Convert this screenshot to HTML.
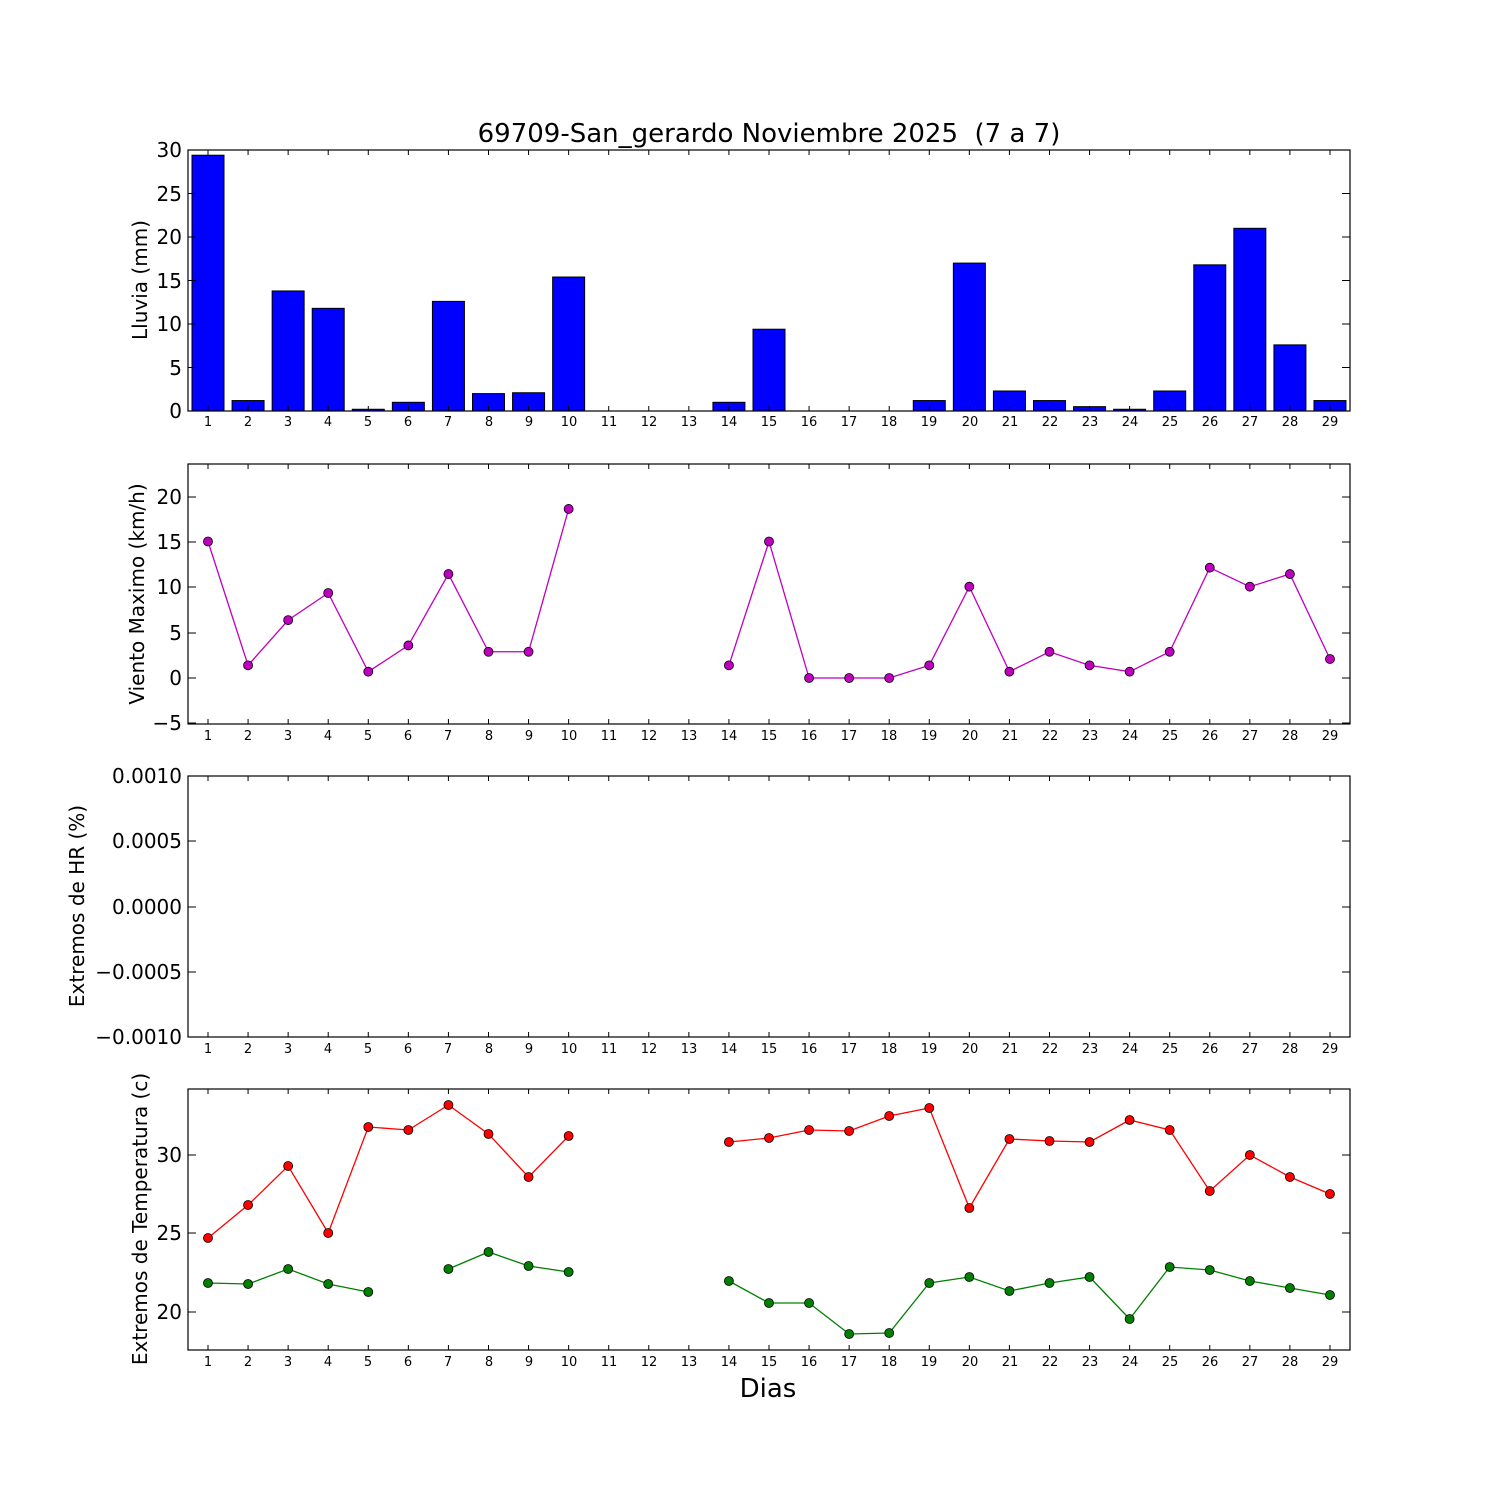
<!DOCTYPE html>
<html><head><meta charset="utf-8"><style>
body{margin:0;background:#fff}
svg{display:block}
text{font-family:"DejaVu Sans","Liberation Sans",sans-serif;fill:#000}
.xt{font-size:13px;text-anchor:middle}
.yt{font-size:20px;text-anchor:end}
.yl{font-size:20px;text-anchor:middle}
</style></head><body>
<svg id="s" width="1500" height="1500" viewBox="0 0 1500 1500" xmlns="http://www.w3.org/2000/svg">
<rect width="1500" height="1500" fill="#fff"/>
<g id="shapes"></g>
<text x="769" y="142" style="font-size:26px;white-space:pre" text-anchor="middle">69709-San_gerardo Noviembre 2025 &#160;(7 a 7)</text>
<text x="768" y="1397" style="font-size:26px" text-anchor="middle">Dias</text>
<text class="yl" transform="translate(147,280) rotate(-90)">Lluvia (mm)</text>
<text class="yl" transform="translate(144,594) rotate(-90)">Viento Maximo (km/h)</text>
<text class="yl" transform="translate(84,906) rotate(-90)">Extremos de HR (%)</text>
<text class="yl" transform="translate(147,1219) rotate(-90)">Extremos de Temperatura (c)</text>
<text class="yt" x="182" y="418">0</text><text class="yt" x="182" y="375">5</text><text class="yt" x="182" y="331">10</text><text class="yt" x="182" y="288">15</text><text class="yt" x="182" y="244">20</text><text class="yt" x="182" y="201">25</text><text class="yt" x="182" y="157">30</text>
<text class="yt" x="182" y="730">−5</text><text class="yt" x="182" y="685">0</text><text class="yt" x="182" y="640">5</text><text class="yt" x="182" y="594">10</text><text class="yt" x="182" y="549">15</text><text class="yt" x="182" y="504">20</text>
<text class="yt" x="182" y="783">0.0010</text><text class="yt" x="182" y="848">0.0005</text><text class="yt" x="182" y="914">0.0000</text><text class="yt" x="182" y="979">−0.0005</text><text class="yt" x="182" y="1044">−0.0010</text>
<text class="yt" x="182" y="1162">30</text><text class="yt" x="182" y="1240">25</text><text class="yt" x="182" y="1319">20</text>
<g transform="translate(0,426)">
<text class="xt" x="208">1</text><text class="xt" x="248">2</text><text class="xt" x="288">3</text><text class="xt" x="328">4</text><text class="xt" x="368">5</text><text class="xt" x="408">6</text><text class="xt" x="448">7</text><text class="xt" x="489">8</text><text class="xt" x="529">9</text><text class="xt" x="569">10</text><text class="xt" x="609">11</text><text class="xt" x="649">12</text><text class="xt" x="689">13</text><text class="xt" x="729">14</text><text class="xt" x="769">15</text><text class="xt" x="809">16</text><text class="xt" x="849">17</text><text class="xt" x="889">18</text><text class="xt" x="929">19</text><text class="xt" x="970">20</text><text class="xt" x="1010">21</text><text class="xt" x="1050">22</text><text class="xt" x="1090">23</text><text class="xt" x="1130">24</text><text class="xt" x="1170">25</text><text class="xt" x="1210">26</text><text class="xt" x="1250">27</text><text class="xt" x="1290">28</text><text class="xt" x="1330">29</text>
</g>
<g transform="translate(0,740)">
<text class="xt" x="208">1</text><text class="xt" x="248">2</text><text class="xt" x="288">3</text><text class="xt" x="328">4</text><text class="xt" x="368">5</text><text class="xt" x="408">6</text><text class="xt" x="448">7</text><text class="xt" x="489">8</text><text class="xt" x="529">9</text><text class="xt" x="569">10</text><text class="xt" x="609">11</text><text class="xt" x="649">12</text><text class="xt" x="689">13</text><text class="xt" x="729">14</text><text class="xt" x="769">15</text><text class="xt" x="809">16</text><text class="xt" x="849">17</text><text class="xt" x="889">18</text><text class="xt" x="929">19</text><text class="xt" x="970">20</text><text class="xt" x="1010">21</text><text class="xt" x="1050">22</text><text class="xt" x="1090">23</text><text class="xt" x="1130">24</text><text class="xt" x="1170">25</text><text class="xt" x="1210">26</text><text class="xt" x="1250">27</text><text class="xt" x="1290">28</text><text class="xt" x="1330">29</text>
</g>
<g transform="translate(0,1053)">
<text class="xt" x="208">1</text><text class="xt" x="248">2</text><text class="xt" x="288">3</text><text class="xt" x="328">4</text><text class="xt" x="368">5</text><text class="xt" x="408">6</text><text class="xt" x="448">7</text><text class="xt" x="489">8</text><text class="xt" x="529">9</text><text class="xt" x="569">10</text><text class="xt" x="609">11</text><text class="xt" x="649">12</text><text class="xt" x="689">13</text><text class="xt" x="729">14</text><text class="xt" x="769">15</text><text class="xt" x="809">16</text><text class="xt" x="849">17</text><text class="xt" x="889">18</text><text class="xt" x="929">19</text><text class="xt" x="970">20</text><text class="xt" x="1010">21</text><text class="xt" x="1050">22</text><text class="xt" x="1090">23</text><text class="xt" x="1130">24</text><text class="xt" x="1170">25</text><text class="xt" x="1210">26</text><text class="xt" x="1250">27</text><text class="xt" x="1290">28</text><text class="xt" x="1330">29</text>
</g>
<g transform="translate(0,1366)">
<text class="xt" x="208">1</text><text class="xt" x="248">2</text><text class="xt" x="288">3</text><text class="xt" x="328">4</text><text class="xt" x="368">5</text><text class="xt" x="408">6</text><text class="xt" x="448">7</text><text class="xt" x="489">8</text><text class="xt" x="529">9</text><text class="xt" x="569">10</text><text class="xt" x="609">11</text><text class="xt" x="649">12</text><text class="xt" x="689">13</text><text class="xt" x="729">14</text><text class="xt" x="769">15</text><text class="xt" x="809">16</text><text class="xt" x="849">17</text><text class="xt" x="889">18</text><text class="xt" x="929">19</text><text class="xt" x="970">20</text><text class="xt" x="1010">21</text><text class="xt" x="1050">22</text><text class="xt" x="1090">23</text><text class="xt" x="1130">24</text><text class="xt" x="1170">25</text><text class="xt" x="1210">26</text><text class="xt" x="1250">27</text><text class="xt" x="1290">28</text><text class="xt" x="1330">29</text>
</g>
</svg>
<script>
var g=document.getElementById("shapes"),out="";
function X(d){return 208+(d-1)*40.071;}
var L=188,R=1350,panels=[[150,411],[464,724],[776,1037],[1089,1350]];
var rain=[29.4,1.2,13.8,11.8,0.2,1.0,12.6,2.0,2.1,15.4,0,0,0,1.0,9.4,0,0,0,1.2,17.0,2.3,1.2,0.5,0.2,2.3,16.8,21.0,7.6,1.2];
rain.forEach(function(v,i){var h=v*8.7;out+='<rect x="'+(X(i+1)-16)+'" y="'+(411-h)+'" width="32" height="'+h+'" fill="#0000ff" stroke="#000" stroke-width="1"/>';});
function series(pts,color){var segs=[],cur=[];pts.forEach(function(p){if(p==null){if(cur.length)segs.push(cur);cur=[];}else cur.push(p);});if(cur.length)segs.push(cur);
segs.forEach(function(s){out+='<polyline fill="none" stroke="'+color+'" stroke-width="1.3" points="'+s.map(function(p){return p[0]+','+p[1]}).join(' ')+'"/>';});
pts.forEach(function(p){if(p)out+='<circle cx="'+p[0]+'" cy="'+p[1]+'" r="4.5" fill="'+color+'" stroke="#000" stroke-width="0.8"/>';});}
var wind=[15.1,1.4,6.4,9.4,0.7,3.6,11.5,2.9,2.9,18.7,null,null,null,1.4,15.1,0,0,0,1.4,10.1,0.7,2.9,1.4,0.7,2.9,12.2,10.1,11.5,2.1];
series(wind.map(function(v,i){return v==null?null:[X(i+1),678-v*9.04];}),"#bf00bf");
var tmax=[1238,1205,1166,1233,1127,1130,1105,1134,1177,1136,null,null,null,1142,1138,1130,1131,1116,1108,1208,1139,1141,1142,1120,1130,1191,1155,1177,1194];
var tmin=[1283,1284,1269,1284,1292,null,1269,1252,1266,1272,null,null,null,1281,1303,1303,1334,1333,1283,1277,1291,1283,1277,1319,1267,1270,1281,1288,1295];
series(tmax.map(function(v,i){return v==null?null:[X(i+1),v];}),"#ff0000");
series(tmin.map(function(v,i){return v==null?null:[X(i+1),v];}),"#008000");
panels.forEach(function(p){var t=p[0],b=p[1];
for(var d=1;d<=29;d++){var x=X(d);out+='<line x1="'+x+'" y1="'+b+'" x2="'+x+'" y2="'+(b-5)+'" stroke="#000"/><line x1="'+x+'" y1="'+t+'" x2="'+x+'" y2="'+(t+5)+'" stroke="#000"/>';}
out+='<rect x="'+L+'" y="'+t+'" width="'+(R-L)+'" height="'+(b-t)+'" fill="none" stroke="#000" stroke-width="1.2"/>';});
var yt=[[411,367.5,324,280.5,237,193.5,150],[723,678,633,587,542,497],[776,841,907,972,1037],[1155,1233,1312]];
yt.forEach(function(a){a.forEach(function(y){out+='<line x1="'+L+'" y1="'+y+'" x2="'+(L+8)+'" y2="'+y+'" stroke="#000"/><line x1="'+R+'" y1="'+y+'" x2="'+(R-8)+'" y2="'+y+'" stroke="#000"/>';});});
g.innerHTML=out;
</script>
</body></html>
